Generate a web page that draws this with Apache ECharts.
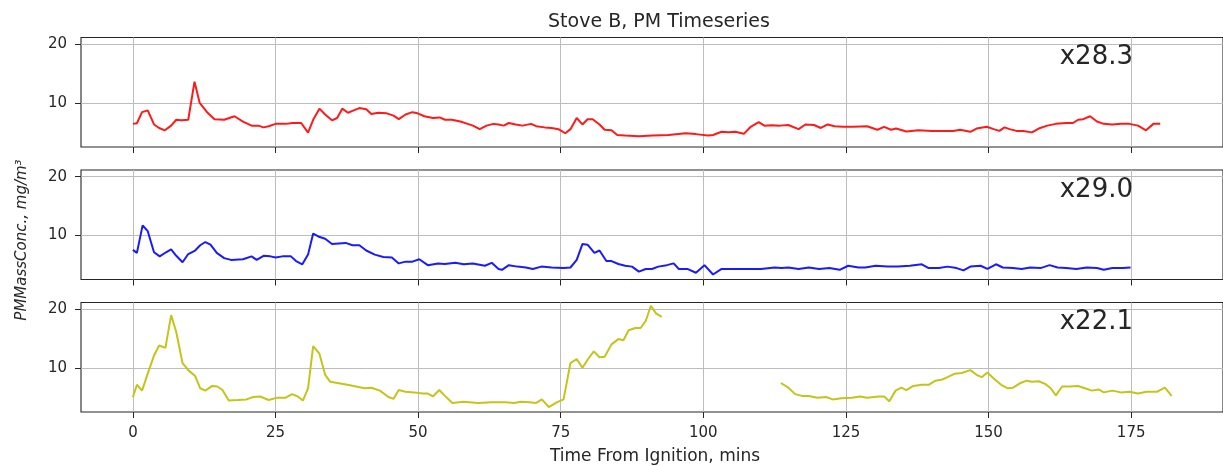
<!DOCTYPE html>
<html>
<head>
<meta charset="utf-8">
<script src="https://cdn.jsdelivr.net/npm/echarts@6/dist/echarts.min.js"></script>
<style>
  html, body { margin: 0; padding: 0; background: #fff; }
  #chart { width: 1223px; height: 466px; }
</style>
</head>
<body>
<div id="chart"></div>
<script>
// Stove B particulate mass concentration, minutes since ignition
const xTicks = [0, 25, 50, 75, 100, 125, 150, 175];
const yTicks = [10, 20];

const redTime = [0, 0.7, 1.6, 2.6, 3.7, 4.6, 5.6, 6.7, 7.6, 8.5, 9.7, 10.8, 11.7, 13.0, 14.3, 16.0, 17.8, 19.3, 20.8, 22.0, 22.9, 23.8, 25.0, 26.8, 28.0, 29.5, 30.7, 31.6, 32.7, 33.7, 34.9, 35.8, 36.7, 37.7, 38.7, 39.7, 40.9, 41.8, 43.0, 44.5, 45.7, 46.6, 47.8, 49.0, 49.9, 51.1, 52.6, 53.8, 54.7, 55.9, 57.4, 58.7, 59.6, 60.8, 62.0, 63.2, 64.1, 65.0, 65.9, 67.1, 68.3, 69.8, 70.7, 72.2, 73.4, 74.6, 75.8, 76.7, 77.8, 78.8, 79.7, 80.6, 81.8, 82.7, 83.9, 84.9, 86.3, 88.7, 91.1, 93.9, 96.9, 98.7, 100.8, 101.7, 103.2, 104.4, 105.6, 107.1, 108.3, 109.7, 110.7, 111.9, 113.4, 114.9, 116.7, 117.9, 119.4, 120.6, 121.8, 123.0, 124.5, 126.3, 128.7, 130.5, 131.7, 132.9, 133.8, 135.6, 137.7, 140.1, 142.5, 143.8, 145.0, 146.8, 147.9, 149.7, 150.9, 151.9, 152.8, 153.7, 154.9, 156.1, 157.6, 158.8, 160.3, 161.8, 163.6, 164.8, 165.7, 166.6, 167.8, 169.0, 170.2, 171.7, 173.2, 174.7, 176.2, 177.6, 178.9, 180.1];
const redValue = [6.4, 6.5, 8.4, 8.7, 6.3, 5.7, 5.3, 6.1, 7.1, 7.0, 7.1, 13.6, 10.0, 8.4, 7.2, 7.1, 7.7, 6.8, 6.1, 6.1, 5.8, 6.0, 6.4, 6.4, 6.55, 6.55, 4.9, 7.1, 9.0, 8.0, 7.0, 7.4, 9.0, 8.3, 8.7, 9.1, 8.9, 8.1, 8.3, 8.2, 7.8, 7.2, 8.0, 8.4, 8.2, 7.7, 7.4, 7.5, 7.1, 7.1, 6.8, 6.4, 6.1, 5.5, 6.1, 6.4, 6.3, 6.1, 6.55, 6.3, 6.1, 6.4, 6.0, 5.8, 5.7, 5.5, 4.8, 5.5, 7.4, 6.3, 7.2, 7.2, 6.3, 5.4, 5.3, 4.5, 4.4, 4.3, 4.4, 4.5, 4.8, 4.65, 4.4, 4.5, 5.05, 4.95, 5.05, 4.7, 5.9, 6.7, 6.1, 6.15, 6.1, 6.2, 5.5, 6.3, 6.2, 5.7, 6.3, 6.0, 5.9, 5.9, 6.0, 5.4, 5.9, 5.4, 5.6, 5.1, 5.3, 5.2, 5.2, 5.2, 5.4, 5.05, 5.6, 5.9, 5.5, 5.2, 5.8, 5.5, 5.2, 5.2, 4.95, 5.6, 6.1, 6.4, 6.55, 6.55, 7.1, 7.2, 7.7, 6.8, 6.4, 6.3, 6.4, 6.4, 6.1, 5.3, 6.4, 6.4];

const blueTime = [0, 0.7, 1.7, 2.6, 3.7, 4.7, 5.8, 6.7, 7.6, 8.7, 9.7, 10.9, 11.8, 12.7, 13.6, 14.7, 16.0, 17.2, 19.3, 20.8, 21.7, 22.9, 24.1, 25.0, 26.2, 27.7, 28.6, 29.7, 30.7, 31.6, 32.5, 33.7, 34.9, 36.1, 37.3, 38.5, 39.7, 40.9, 42.4, 43.9, 45.4, 46.6, 47.8, 49.0, 50.2, 51.7, 53.5, 54.7, 56.5, 58.0, 59.6, 61.7, 62.9, 64.1, 64.7, 65.9, 67.4, 68.9, 70.1, 71.6, 73.4, 75.5, 76.7, 77.8, 78.8, 79.7, 80.9, 81.8, 83.0, 83.9, 85.1, 86.3, 87.5, 88.7, 89.9, 91.0, 92.1, 93.6, 94.8, 95.7, 97.2, 98.7, 100.2, 101.7, 103.2, 105.3, 107.7, 110.1, 112.5, 113.7, 114.9, 116.7, 118.5, 120.3, 122.1, 123.9, 125.4, 127.2, 128.4, 130.2, 132.3, 134.1, 136.2, 138.3, 139.5, 141.3, 142.8, 144.4, 145.6, 146.8, 148.6, 149.8, 151.3, 152.5, 154.3, 155.8, 157.3, 159.1, 160.7, 162.1, 163.6, 165.4, 167.2, 169.0, 170.2, 171.7, 173.5, 174.9];
const blueValue = [7.5, 7.0, 11.7, 10.7, 7.1, 6.4, 7.1, 7.6, 6.5, 5.4, 6.8, 7.4, 8.3, 8.85, 8.4, 7.0, 6.1, 5.8, 5.9, 6.4, 5.8, 6.5, 6.4, 6.2, 6.4, 6.4, 5.6, 5.05, 6.7, 10.3, 9.8, 9.4, 8.5, 8.6, 8.7, 8.3, 8.3, 7.4, 6.7, 6.3, 6.2, 5.2, 5.5, 5.5, 5.9, 4.9, 5.2, 5.1, 5.3, 5.05, 5.2, 4.8, 5.3, 4.25, 4.1, 4.9, 4.65, 4.5, 4.25, 4.65, 4.5, 4.4, 4.5, 5.8, 8.5, 8.4, 7.0, 7.4, 5.6, 5.6, 5.1, 4.8, 4.65, 3.8, 4.25, 4.25, 4.65, 4.9, 5.2, 4.25, 4.25, 3.6, 4.9, 3.3, 4.25, 4.25, 4.25, 4.25, 4.5, 4.4, 4.5, 4.25, 4.5, 4.25, 4.4, 4.1, 4.8, 4.5, 4.5, 4.8, 4.65, 4.65, 4.8, 5.05, 4.4, 4.4, 4.65, 4.4, 4.0, 4.65, 4.8, 4.25, 5.05, 4.5, 4.4, 4.25, 4.5, 4.4, 4.9, 4.5, 4.4, 4.25, 4.5, 4.4, 4.1, 4.4, 4.4, 4.5];

// null marks the logging gap between ~93 and ~113 minutes
const yellowTime = [0, 0.7, 1.6, 2.6, 3.7, 4.6, 5.7, 6.7, 7.6, 8.7, 9.7, 10.9, 11.8, 12.7, 13.9, 14.8, 15.7, 16.8, 18.4, 19.9, 21.1, 22.3, 23.8, 25.3, 26.8, 27.9, 28.9, 29.8, 30.7, 31.6, 32.7, 33.7, 34.6, 36.1, 37.6, 39.1, 40.6, 41.8, 43.3, 44.8, 45.7, 46.6, 47.8, 49.3, 50.8, 51.7, 52.6, 53.7, 54.7, 56.0, 58.0, 60.5, 62.9, 65.3, 66.8, 68.0, 69.5, 70.7, 71.7, 72.9, 74.3, 75.5, 76.7, 77.8, 78.8, 79.8, 80.8, 81.8, 82.7, 83.9, 85.1, 86.0, 86.9, 88.1, 89.0, 89.9, 90.8, 91.7, 92.7, 103.0, 113.6, 114.9, 116.1, 117.3, 118.5, 120.0, 121.5, 122.7, 124.2, 126.0, 127.5, 128.7, 130.8, 131.7, 132.6, 133.7, 134.7, 135.6, 136.8, 138.3, 139.5, 140.7, 141.9, 142.8, 144.1, 145.3, 146.8, 147.9, 148.8, 149.8, 151.0, 152.2, 153.4, 154.3, 155.5, 156.7, 157.6, 158.8, 160.0, 160.9, 161.8, 162.9, 164.2, 165.7, 166.9, 168.1, 169.3, 170.2, 171.7, 173.2, 174.7, 176.2, 177.7, 179.5, 180.9, 182.1];
const yellowValue = [5.0, 7.1, 6.1, 9.0, 12.1, 13.8, 13.4, 19.0, 16.1, 10.8, 9.6, 8.6, 6.5, 6.1, 6.9, 6.8, 6.2, 4.4, 4.5, 4.6, 5.0, 5.1, 4.5, 4.9, 4.9, 5.5, 5.1, 4.4, 6.5, 13.7, 12.4, 8.8, 7.6, 7.35, 7.1, 6.8, 6.5, 6.6, 6.1, 5.0, 4.7, 6.2, 5.9, 5.8, 5.6, 5.6, 5.1, 6.2, 5.2, 4.0, 4.2, 4.0, 4.1, 4.1, 4.0, 4.2, 4.1, 4.0, 4.6, 3.3, 4.1, 4.6, 10.8, 11.5, 10.0, 11.5, 12.8, 11.8, 11.9, 14.0, 14.9, 14.7, 16.4, 16.8, 16.8, 18.0, 20.6, 19.3, 18.7, null, 7.4, 6.6, 5.5, 5.2, 5.2, 4.9, 5.0, 4.6, 4.8, 4.9, 5.1, 4.9, 5.1, 5.1, 4.3, 6.1, 6.6, 6.2, 6.9, 7.1, 7.1, 7.8, 8.0, 8.4, 9.0, 9.1, 9.6, 8.8, 8.4, 9.2, 8.1, 7.1, 6.5, 6.6, 7.35, 7.8, 7.6, 7.7, 7.2, 6.5, 5.3, 6.8, 6.8, 6.9, 6.5, 6.1, 6.3, 5.8, 6.1, 5.8, 5.9, 5.6, 5.9, 5.9, 6.6, 5.2];

const scaleLabels = ['x28.3', 'x29.0', 'x22.1'];
const lineColors = ['#ff1a1a', '#1a1aff', '#c4c41a'];

const pairs = (t, v) => t.map((x, i) => [x, v[i] === null ? '-' : v[i]]);
const seriesData = [pairs(redTime, redValue), pairs(blueTime, blueValue), pairs(yellowTime, yellowValue)];

const FONT = 'DejaVu Sans';
const INK = '#262626';
const GRIDLINE = '#bdbdbd';
const panelTops = [37.5, 170, 302.5];
const panelHeight = 109.5;

const grids = panelTops.map(top => ({
  left: 81, right: -6, top: top, height: panelHeight,
  show: true, borderColor: INK, borderWidth: 1.1, backgroundColor: 'transparent'
}));

const xAxes = panelTops.map((_, i) => ({
  type: 'value', gridIndex: i, min: -9.1, max: 191.1,
  axisLine: { show: false, onZero: false },
  axisTick: { show: true, customValues: xTicks, length: 6, lineStyle: { color: INK, width: 1 } },
  axisLabel: { show: i === 2, customValues: xTicks, margin: 14, fontFamily: FONT, fontSize: 15, color: INK },
  splitLine: { show: true, lineStyle: { color: GRIDLINE, width: 1 } }
}));

const yAxes = panelTops.map((_, i) => ({
  type: 'value', gridIndex: i, min: 2.45, max: 21.15,
  axisLine: { show: false, onZero: false },
  axisTick: { show: true, customValues: yTicks, length: 6, lineStyle: { color: INK, width: 1 } },
  axisLabel: { show: true, customValues: yTicks, margin: 14, fontFamily: FONT, fontSize: 15, color: INK },
  splitLine: { show: true, lineStyle: { color: GRIDLINE, width: 1 } }
}));

const series = seriesData.map((d, i) => ({
  type: 'line', xAxisIndex: i, yAxisIndex: i, data: d,
  showSymbol: false, connectNulls: false, animation: false,
  lineStyle: { color: lineColors[i], width: 2 }, z: 3
}));

const chart = echarts.init(document.getElementById('chart'), null, { renderer: 'canvas' });
chart.setOption({
  animation: false,
  backgroundColor: '#ffffff',
  title: {
    text: 'Stove B, PM Timeseries', left: 654, top: 8, textAlign: 'center',
    textStyle: { fontFamily: FONT, fontSize: 19, fontWeight: 'normal', color: INK }
  },
  grid: grids,
  xAxis: xAxes,
  yAxis: yAxes,
  series: series,
  graphic: [
    ...scaleLabels.map((t, i) => ({
      type: 'text', z: 10,
      style: {
        x: 1133, y: panelTops[i] + 20, text: t, textAlign: 'right', textVerticalAlign: 'middle',
        fontFamily: FONT, fontSize: 26, fill: INK
      }
    })),
    {
      type: 'text', z: 10,
      style: {
        x: 655, y: 457, text: 'Time From Ignition, mins', textAlign: 'center', textVerticalAlign: 'middle',
        fontFamily: FONT, fontSize: 17, fill: INK
      }
    },
    {
      type: 'text', z: 10, x: 22, y: 240, rotation: Math.PI / 2,
      style: {
        x: 0, y: 0, text: 'PMMassConc., mg/m³', textAlign: 'center', textVerticalAlign: 'middle',
        fontFamily: FONT, fontSize: 15, fontStyle: 'italic', fill: INK
      }
    }
  ]
});
</script>
</body>
</html>
